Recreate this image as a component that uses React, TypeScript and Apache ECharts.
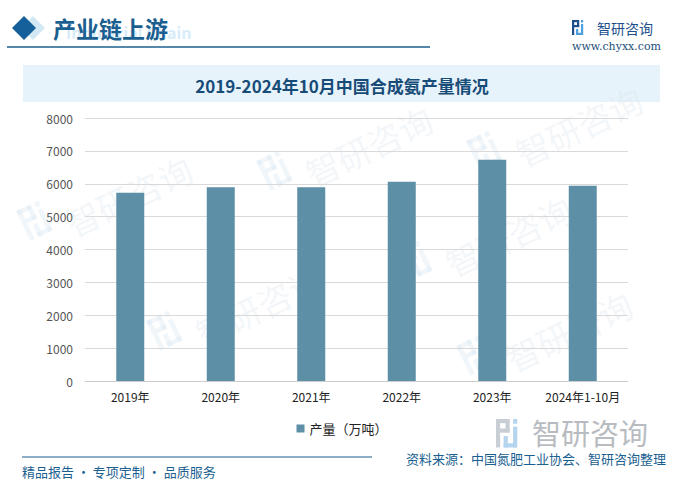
import React, { useEffect, useRef } from "react";
import * as echarts from "echarts";

const categories = ["2019年", "2020年", "2021年", "2022年", "2023年", "2024年1-10月"];
const production = [5730, 5890, 5890, 6060, 6730, 5940];
const seriesName = "产量（万吨）";
const yTicks = { min: 0, max: 8000, interval: 1000 };

const chartTitle = "2019-2024年10月中国合成氨产量情况";
const headerTitle = "产业链上游";
const sourceText = "资料来源：中国氮肥工业协会、智研咨询整理";
const footerText = "精品报告 · 专项定制 · 品质服务";

const CJK = "'Noto Sans CJK SC', 'Noto Sans', sans-serif";

function logoIcon(x: number, y: number, s: number, dark: string, light: string) {
  return {
    type: "group",
    x,
    y,
    silent: true,
    children: [
      { type: "rect", shape: { x: 0, y: 0, width: 7 * s, height: 2.2 * s }, style: { fill: dark } },
      { type: "rect", shape: { x: 0, y: 0, width: 2.2 * s, height: 15 * s }, style: { fill: dark } },
      { type: "rect", shape: { x: 5 * s, y: 0, width: 2.2 * s, height: 7 * s }, style: { fill: dark } },
      { type: "rect", shape: { x: 2 * s, y: 5 * s, width: 5.2 * s, height: 2.2 * s }, style: { fill: dark } },
      { type: "rect", shape: { x: 9 * s, y: 0, width: 2.2 * s, height: 2.5 * s }, style: { fill: light } },
      { type: "rect", shape: { x: 9 * s, y: 4 * s, width: 2.2 * s, height: 11 * s }, style: { fill: light } },
      { type: "rect", shape: { x: 4 * s, y: 12.8 * s, width: 7 * s, height: 2.2 * s }, style: { fill: light } },
      { type: "rect", shape: { x: 4 * s, y: 9 * s, width: 2.2 * s, height: 6 * s }, style: { fill: light } },
    ],
  };
}

function watermark(x: number, y: number) {
  return {
    type: "group",
    x,
    y,
    rotation: Math.PI / 7,
    silent: true,
    children: [
      logoIcon(-40, -18, 2.2, "rgba(215,228,240,0.35)", "rgba(215,228,240,0.35)"),
      {
        type: "text",
        x: 0,
        y: 0,
        style: { text: "智研咨询", font: `34px ${CJK}`, fill: "rgba(215,225,235,0.28)" },
      },
    ],
  };
}

export default function App() {
  const ref = useRef<HTMLDivElement>(null);
  useEffect(() => {
    document.body.style.margin = "0";
    if (!ref.current) return;
    const chart = echarts.init(ref.current, null, { renderer: "svg" });
    chart.setOption({
      animation: false,
      backgroundColor: "#ffffff",
      grid: { left: 85, right: 56, top: 118, bottom: 106 },
      legend: {
        data: [seriesName],
        top: 417,
        left: "center",
        itemWidth: 8,
        itemHeight: 8,
        icon: "rect",
        itemGap: 4,
        textStyle: { fontSize: 13, color: "#222", fontFamily: CJK },
      },
      xAxis: {
        type: "category",
        data: categories,
        axisLine: { lineStyle: { color: "#cccccc" } },
        axisTick: { show: false },
        axisLabel: { interval: 0, fontSize: 12, color: "#222", margin: 9, fontFamily: CJK },
      },
      yAxis: {
        type: "value",
        min: yTicks.min,
        max: yTicks.max,
        interval: yTicks.interval,
        axisLine: { show: false },
        axisTick: { show: false },
        axisLabel: {
          fontSize: 12,
          color: "#555",
          margin: 12,
          fontFamily: CJK,
          formatter: (v: number) => String(v),
        },
        splitLine: { lineStyle: { color: "#d9d9d9" } },
      },
      series: [
        {
          name: seriesName,
          type: "bar",
          data: production,
          barWidth: 28,
          itemStyle: { color: "#5d90a7" },
        },
      ],
      graphic: [
        watermark(60, 210),
        watermark(190, 320),
        watermark(300, 160),
        watermark(440, 250),
        watermark(510, 140),
        watermark(500, 345),
        // header
        {
          type: "polygon",
          shape: { points: [[33, 16], [45, 28], [33, 40], [21, 28]] },
          style: { fill: "#d3e7f4" },
        },
        {
          type: "polygon",
          shape: { points: [[24, 16], [36, 28], [24, 40], [12, 28]] },
          style: { fill: "#15609a" },
        },
        {
          type: "text",
          x: 66,
          y: 32,
          silent: true,
          style: {
            text: "Industrial Chain",
            font: `bold 16px ${CJK}`,
            fill: "#d8ecf9",
            verticalAlign: "middle",
          },
        },
        {
          type: "text",
          x: 53,
          y: 28,
          style: {
            text: headerTitle,
            font: `bold 23px ${CJK}`,
            fill: "#1b5f91",
            verticalAlign: "middle",
          },
        },
        {
          type: "line",
          shape: { x1: 7, y1: 47, x2: 430, y2: 47 },
          style: { stroke: "#1b5f8c", lineWidth: 1.5 },
        },
        logoIcon(572, 20, 1.0, "#1d4f8c", "#4aa0e0"),
        {
          type: "text",
          x: 597,
          y: 28,
          style: { text: "智研咨询", font: `14px ${CJK}`, fill: "#1d4f8c", verticalAlign: "middle" },
        },
        {
          type: "text",
          x: 572,
          y: 46,
          style: {
            text: "www.chyxx.com",
            font: "11px 'DejaVu Serif', 'Liberation Serif', serif",
            fill: "#1d4f7c",
            verticalAlign: "middle",
          },
        },
        // title band
        {
          type: "rect",
          shape: { x: 23, y: 65, width: 637, height: 37 },
          style: { fill: "#e7f3fb" },
          z: -5,
        },
        {
          type: "text",
          x: 342,
          y: 85,
          style: {
            text: chartTitle,
            font: `bold 17px ${CJK}`,
            fill: "#174c78",
            align: "center",
            verticalAlign: "middle",
          },
        },
        // bottom
        logoIcon(496, 419, 1.9, "#c9ced4", "#b5d4ee"),
        {
          type: "text",
          x: 532,
          y: 432,
          style: { text: "智研咨询", font: `29px ${CJK}`, fill: "#b8bcc1", verticalAlign: "middle" },
        },
        {
          type: "line",
          shape: { x1: 22, y1: 457, x2: 372, y2: 457 },
          style: { stroke: "#1b5f8c", lineWidth: 1 },
        },
        {
          type: "text",
          x: 22,
          y: 471,
          style: { text: footerText, font: `13px ${CJK}`, fill: "#1b5f91", verticalAlign: "middle" },
        },
        {
          type: "text",
          x: 666,
          y: 458,
          style: {
            text: sourceText,
            font: `13px ${CJK}`,
            fill: "#1b5f91",
            align: "right",
            verticalAlign: "middle",
          },
        },
      ],
    });
    return () => chart.dispose();
  }, []);
  return <div ref={ref} style={{ width: 684, height: 487 }} />;
}
